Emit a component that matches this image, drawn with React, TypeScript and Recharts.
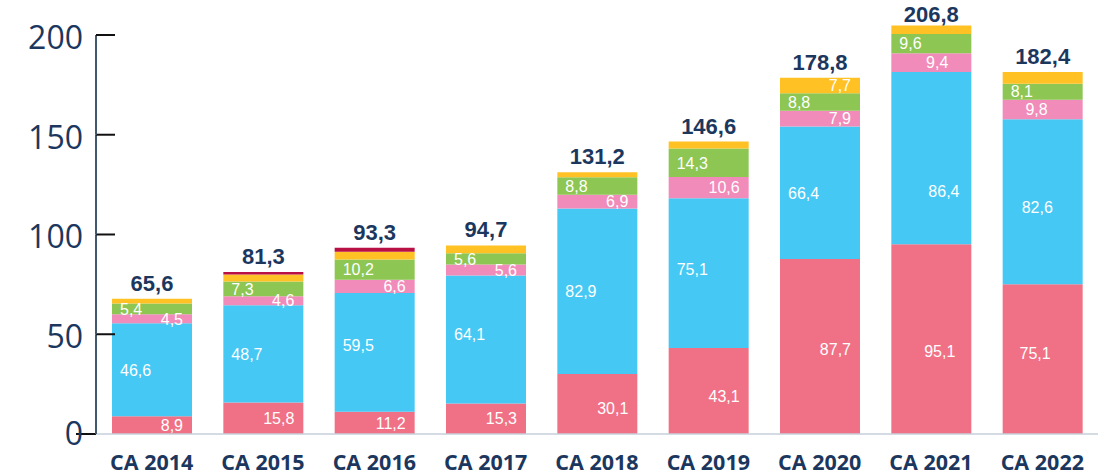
import { BarChart, Bar, XAxis, YAxis, LabelList } from "recharts";

const categories = ["CA 2014", "CA 2015", "CA 2016", "CA 2017", "CA 2018", "CA 2019", "CA 2020", "CA 2021", "CA 2022"];
const redValues = [8.9, 15.8, 11.2, 15.3, 30.1, 43.1, 87.7, 95.1, 75.1];
const blueValues = [46.6, 48.7, 59.5, 64.1, 82.9, 75.1, 66.4, 86.4, 82.6];
const pinkValues = [4.5, 4.6, 6.6, 5.6, 6.9, 10.6, 7.9, 9.4, 9.8];
const greenValues = [5.4, 7.3, 10.2, 5.6, 8.8, 14.3, 8.8, 9.6, 8.1];
const yellowValues = [2.4, 3.6, 3.8, 3.9, 2.5, 3.5, 7.7, 4.2, 5.8];
const crimsonValues = [0, 1.2, 2.0, 0, 0, 0, 0, 0, 0];
const totals = [65.6, 81.3, 93.3, 94.7, 131.2, 146.6, 178.8, 206.8, 182.4];
const yellowLabelShown = [false, false, false, false, false, false, true, false, false];
const yTicks = [0, 50, 100, 150, 200];

const data = categories.map((name, i) => ({
  name,
  red: redValues[i],
  blue: blueValues[i],
  pink: pinkValues[i],
  green: greenValues[i],
  yellow: yellowValues[i],
  crimson: crimsonValues[i],
}));

// layout
const W = 1103;
const H = 476;
const TOP = 25;
const XAXIS_H = 42;
const Y_MAX = 205;
const PX = (H - TOP - XAXIS_H) / Y_MAX;

const NAVY = "#1c375e";
const LABEL_FONT = "'Liberation Sans', Arial, sans-serif";

// per-bar nudges of the inside labels
const redDx = [0, 0, 0, 0, 0, 0, 0, -7, -23];
const redDy = [0, 0, 0, 0, 4, 5, 3, 12, -6];
const blueDx = [0, 0, 0, 0, 0, 0, 0, 29, 11];
const blueDy = [0, 0, -7, -5, 0, -4, 0, 33, 5];
const pinkDx = [0, 0, 0, 0, 0, 0, 0, -14, -26];

const fmt = (v: number) => v.toFixed(1).replace(".", ",");
const box = (p: any) => p.viewBox ?? { x: p.x, y: p.y, width: p.width, height: p.height };

const segLabel =
  (align: "start" | "end", dx: number[] = [], dy: number[] = [], shown?: boolean[]) =>
  (p: any) => {
    const i = p.index;
    if (shown && !shown[i]) return null;
    const { x, y, width, height } = box(p);
    const tx = align === "start" ? x + 8 : x + width - 9;
    return (
      <text
        x={tx + (dx[i] ?? 0)}
        y={y + height / 2 + (dy[i] ?? 0)}
        dy="0.36em"
        textAnchor={align}
        fill="#ffffff"
        fontSize={16}
        fontFamily={LABEL_FONT}
      >
        {fmt(Number(p.value))}
      </text>
    );
  };

// total above the stack; drawn from the yellow segment (present in every bar),
// lifted over the thin crimson cap where there is one, kept inside the picture
const totalLabel = (p: any) => {
  const { x, y, width } = box(p);
  const i = p.index;
  const capTop = y - crimsonValues[i] * PX;
  return (
    <text
      x={x + width / 2}
      y={Math.max(capTop - 8, 22)}
      textAnchor="middle"
      fill={NAVY}
      fontSize={22}
      fontWeight={700}
      fontFamily={LABEL_FONT}
    >
      {fmt(totals[i])}
    </text>
  );
};

const YTick = ({ x, y, payload }: any) => {
  const v = payload.value;
  return (
    <g>
      {v > 0 && <line x1={x} x2={x} y1={y} y2={y + 50 * PX} stroke="#42586f" strokeWidth={2} />}
      <line x1={v === 0 ? x - 20 : x} x2={v === 0 ? x : x + 19} y1={y} y2={y} stroke="#111111" strokeWidth={2} />
      <text
        x={x - 13}
        y={y}
        dy={v === 0 ? 11 : 14}
        textAnchor="end"
        fontSize={32}
        fontFamily="'Open Sans', sans-serif"
        fill={NAVY}
      >
        {v}
      </text>
    </g>
  );
};

const XTick = ({ x, y, payload }: any) => (
  <text
    x={x}
    y={y}
    dy={36}
    textAnchor="middle"
    fontSize={21.5}
    fontWeight={700}
    fontFamily="'Open Sans', sans-serif"
    fill={NAVY}
  >
    {payload.value}
  </text>
);

const App = () => {
  return (
    <div style={{ position: "absolute", left: 0, top: 0, background: "#fff" }}>
      <BarChart width={W} height={H} data={data} margin={{ top: TOP, right: 5, bottom: 0, left: 0 }} barSize={80}>
        <XAxis
          dataKey="name"
          height={XAXIS_H}
          axisLine={{ stroke: "#c7cfd8", strokeWidth: 1.5 }}
          tickLine={false}
          tickSize={0}
          tickMargin={0}
          tick={<XTick />}
          interval={0}
        />
        <YAxis
          width={96}
          domain={[0, Y_MAX]}
          ticks={yTicks}
          axisLine={false}
          tickLine={false}
          tickSize={0}
          tickMargin={0}
          tick={<YTick />}
        />
        <Bar dataKey="red" stackId="a" fill="#f07186" isAnimationActive={false}>
          <LabelList dataKey="red" content={segLabel("end", redDx, redDy)} />
        </Bar>
        <Bar dataKey="blue" stackId="a" fill="#45c8f4" isAnimationActive={false}>
          <LabelList dataKey="blue" content={segLabel("start", blueDx, blueDy)} />
        </Bar>
        <Bar dataKey="pink" stackId="a" fill="#f18bb9" isAnimationActive={false}>
          <LabelList dataKey="pink" content={segLabel("end", pinkDx)} />
        </Bar>
        <Bar dataKey="green" stackId="a" fill="#8dc653" isAnimationActive={false}>
          <LabelList dataKey="green" content={segLabel("start")} />
        </Bar>
        <Bar dataKey="yellow" stackId="a" fill="#ffc124" isAnimationActive={false}>
          <LabelList dataKey="yellow" content={segLabel("end", [], [], yellowLabelShown)} />
          <LabelList dataKey="yellow" content={totalLabel} />
        </Bar>
        <Bar dataKey="crimson" stackId="a" fill="#b80f45" isAnimationActive={false} />
      </BarChart>
    </div>
  );
};

export default App;
